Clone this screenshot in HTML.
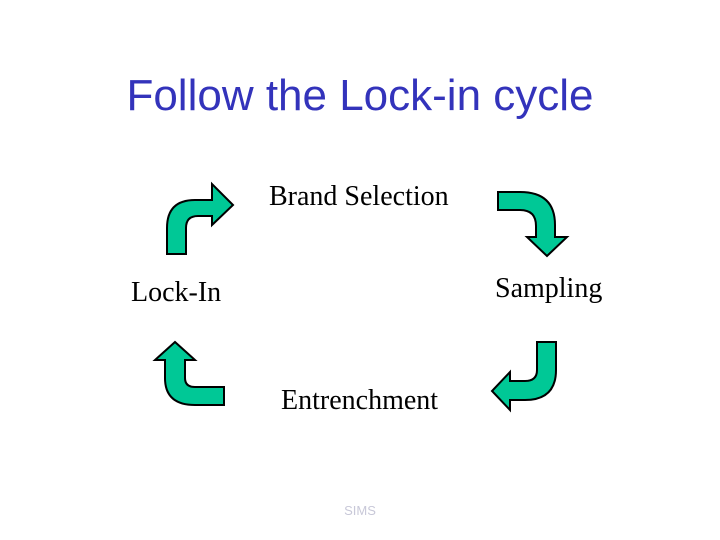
<!DOCTYPE html>
<html><head><style>
body{margin:0;width:720px;height:540px;background:#fff;position:relative;overflow:hidden}
.t{position:absolute;font-family:"Liberation Serif",serif;font-size:28px;color:#000;white-space:nowrap;line-height:32px}
</style></head><body>
<div style="position:absolute;left:0;width:720px;top:70px;text-align:center;font-family:'Liberation Sans',sans-serif;font-size:44px;line-height:52px;color:#3333bb">Follow the Lock-in cycle</div>
<div class="t" style="left:269px;top:181px">Brand Selection</div>
<div class="t" style="left:495px;top:273px">Sampling</div>
<div class="t" style="left:131px;top:277px">Lock-In</div>
<div class="t" style="left:281px;top:385px">Entrenchment</div>
<div style="position:absolute;left:0;width:720px;top:503px;text-align:center;font-family:'Liberation Sans',sans-serif;font-size:13px;color:#c8c8d8">SIMS</div>
<svg width="720" height="540" style="position:absolute;left:0;top:0">
<g fill="#00c896" stroke="#000" stroke-width="2" stroke-linejoin="miter">
<path d="M167,254 L167,228 Q167,200 195,200 L212,200 L212,184 L233,205 L212,225 L212,216 L198,216 Q186,216 186,228 L186,254 Z"/>
<path d="M498,192 L520,192 Q555,192 555,225 L555,237 L567,237 L547,256 L527,237 L536,237 L536,226 Q536,210 520,210 L498,210 Z"/>
<path d="M537,342 L556,342 L556,370 Q556,400 525,400 L510,400 L510,410 L492,391 L510,372 L510,381 L525,381 Q537,381 537,370 Z"/>
<path d="M165,360 L155,360 L175,342 L195,360 L185,360 L185,378 Q185,387 195,387 L224,387 L224,405 L195,405 Q165,405 165,378 Z"/>
</g></svg>
</body></html>
